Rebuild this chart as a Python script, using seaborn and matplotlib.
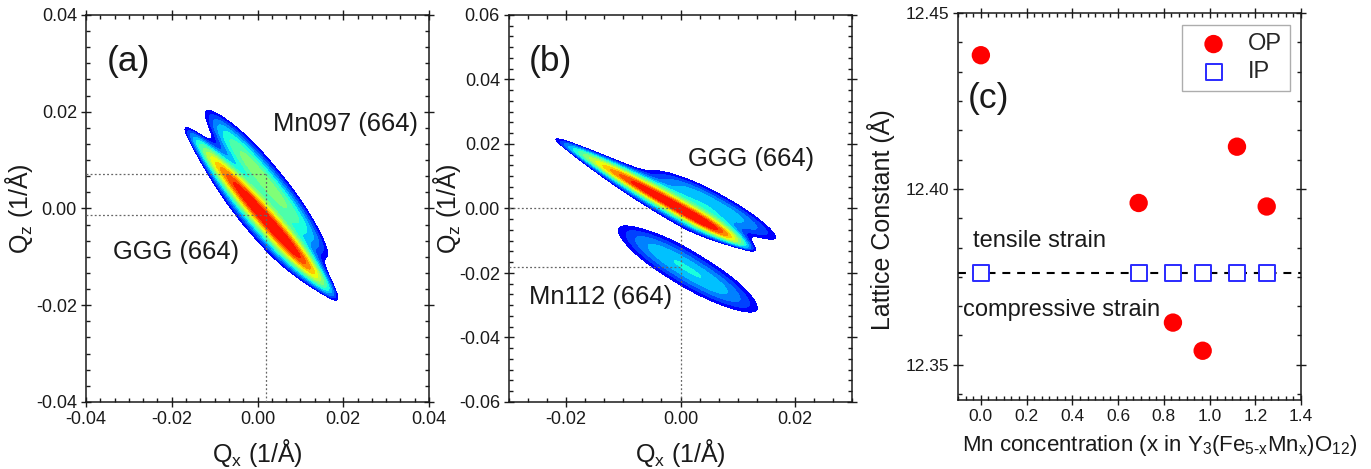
import numpy as np
import pandas as pd
import matplotlib
matplotlib.use("Agg")
import matplotlib.pyplot as plt
import seaborn as sns
from matplotlib.ticker import MultipleLocator, AutoMinorLocator, FormatStrFormatter

# ---------------- data ----------------
# Reciprocal space map peaks, panel (a): GGG substrate and Mn097 film (664)
a_peaks = ["GGG", "Mn097"]
a_qx = [0.0032, 0.0005]          # peak centre Qx (1/A)
a_qz = [-0.0034, 0.0070]         # peak centre Qz (1/A)
a_angle = [-45.0, -46.5]         # streak direction (deg)
a_len_up = [0.0114, 0.0100]      # spread towards upper-left
a_len_down = [0.0088, 0.0122]    # spread towards lower-right
a_wid_low = [0.0016, 0.0027]     # spread on lower-left side
a_wid_high = [0.0016, 0.0027]    # spread on upper-right side
a_amp = [1.0, 0.095]             # relative intensity

# Panel (b): GGG substrate (sharp + diffuse part) and Mn112 film (664)
b_peaks = ["GGG", "GGG diffuse", "Mn112"]
b_qx = [0.0014, 0.0057, 0.0013]
b_qz = [-0.0016, 0.0014, -0.0188]
b_angle = [-45.0, -45.0, -48.0]
b_len_up = [0.0132, 0.0095, 0.0118]
b_len_down = [0.0065, 0.0110, 0.0118]
b_wid_low = [0.00125, 0.0033, 0.0045]
b_wid_high = [0.0015, 0.0033, 0.0045]
b_amp = [1.0, 0.035, 0.044]

# Guide lines marking peak positions
a_guide_qx = 0.0019
a_guide_qz = [0.0072, -0.0013]
b_guide_qx = 0.0
b_guide_qz = [0.0, -0.018]

# Panel (c): lattice constants vs Mn content
mn_x = [0.0, 0.69, 0.84, 0.97, 1.12, 1.25]
op_lattice = [12.438, 12.396, 12.362, 12.354, 12.412, 12.395]
ip_lattice = [12.376, 12.376, 12.376, 12.376, 12.376, 12.376]
substrate_lattice = 12.376

# ---------------- style ----------------
sns.set_theme(style="ticks")
plt.rcParams["font.family"] = ["Liberation Sans", "DejaVu Sans"]
plt.rcParams["mathtext.fontset"] = "custom"
plt.rcParams["mathtext.rm"] = "Liberation Sans"
plt.rcParams["mathtext.it"] = "Liberation Sans:italic"
plt.rcParams["mathtext.bf"] = "Liberation Sans:bold"
plt.rcParams["axes.unicode_minus"] = False

TXT = "#1a1a1a"
W, H = 1371, 469
fig = plt.figure(figsize=(W / 100, H / 100), dpi=100)


def px_axes(left, top, right, bottom):
    return fig.add_axes([left / W, 1 - bottom / H, (right - left) / W, (bottom - top) / H])


ax_a = px_axes(86, 15, 429, 402)
ax_b = px_axes(509, 15, 852, 402)
ax_c = px_axes(958, 13, 1301, 400)


def style_axes(ax, xmaj, ymaj, xfmt, yfmt, lsize):
    ax.xaxis.set_major_locator(MultipleLocator(xmaj))
    ax.yaxis.set_major_locator(MultipleLocator(ymaj))
    ax.xaxis.set_minor_locator(AutoMinorLocator(6))
    ax.yaxis.set_minor_locator(AutoMinorLocator(6))
    ax.xaxis.set_major_formatter(FormatStrFormatter(xfmt))
    ax.yaxis.set_major_formatter(FormatStrFormatter(yfmt))
    ax.tick_params(which="major", direction="inout", length=7, width=1.0,
                   top=True, right=True, labelsize=lsize, colors=TXT, pad=3)
    ax.tick_params(which="minor", direction="in", length=3.2, width=1.0,
                   top=True, right=True, colors=TXT)
    for sp in ax.spines.values():
        sp.set_linewidth(1.1)
        sp.set_color(TXT)


P_ALONG = 2.4   # slightly flat-topped profile along the streak


def peak_field(QX, QZ, cx, cz, ang, l_up, l_down, w_low, w_high, amp):
    t = np.deg2rad(ang)
    dx, dz = QX - cx, QZ - cz
    u = dx * np.cos(t) + dz * np.sin(t)
    v = -dx * np.sin(t) + dz * np.cos(t)
    su = np.where(u < 0, l_up, l_down)
    sv = np.where(v < 0, w_low, w_high)
    along = np.exp(-0.5 * np.abs(u / su) ** P_ALONG)
    across = 1.0 / (1.0 + (v / sv) ** 2) ** 2
    return amp * along * across


# contour bands: outer blue through red
band_levels = list(np.geomspace(0.012, 0.55, 13)) + [10.0]
band_colors = [plt.cm.jet(p) for p in np.linspace(0.125, 0.89, 13)]


def draw_map(ax, xlim, ylim, qx, qz, ang, l_up, l_down, w_low, w_high, amp):
    gx = np.linspace(xlim[0], xlim[1], 700)
    gz = np.linspace(ylim[0], ylim[1], 700)
    QX, QZ = np.meshgrid(gx, gz)
    Z = np.zeros_like(QX)
    for i in range(len(qx)):
        Z += peak_field(QX, QZ, qx[i], qz[i], ang[i], l_up[i], l_down[i],
                        w_low[i], w_high[i], amp[i])
    ax.contourf(QX, QZ, Z, levels=band_levels, colors=band_colors, zorder=1)
    ax.set_xlim(*xlim)
    ax.set_ylim(*ylim)


def guides(ax, xlim, ylim, gx, gzs):
    kw = dict(color="#666666", lw=0.9, ls=(0, (1.5, 1.8)), zorder=3)
    for gz in gzs:
        ax.plot([xlim[0], gx], [gz, gz], **kw)
    ax.plot([gx, gx], [ylim[0], max(gzs)], **kw)


# ---------------- panel (a) ----------------
xa, ya = (-0.04, 0.04), (-0.04, 0.04)
draw_map(ax_a, xa, ya, a_qx, a_qz, a_angle, a_len_up, a_len_down, a_wid_low, a_wid_high, a_amp)
guides(ax_a, xa, ya, a_guide_qx, a_guide_qz)
style_axes(ax_a, 0.02, 0.02, "%.2f", "%.2f", 13)
ax_a.set_xlabel("Q$_\\mathrm{x}$ (1/Å)", fontsize=18, color=TXT)
ax_a.set_ylabel("Q$_\\mathrm{z}$ (1/Å)", fontsize=18, color=TXT)
ax_a.xaxis.set_label_coords(0.5, -0.09)
ax_a.yaxis.set_label_coords(-0.149, 0.5)
ax_a.text(0.061, 0.881, "(a)", transform=ax_a.transAxes, fontsize=25.5, va="center", color=TXT)
ax_a.text(0.546, 0.718, "Mn097 (664)", transform=ax_a.transAxes, fontsize=18.4, va="center", color=TXT)
ax_a.text(0.079, 0.388, "GGG (664)", transform=ax_a.transAxes, fontsize=18.4, va="center", color=TXT)

# ---------------- panel (b) ----------------
xb, yb = (-0.03, 0.03), (-0.06, 0.06)
draw_map(ax_b, xb, yb, b_qx, b_qz, b_angle, b_len_up, b_len_down, b_wid_low, b_wid_high, b_amp)
guides(ax_b, xb, yb, b_guide_qx, b_guide_qz)
style_axes(ax_b, 0.02, 0.02, "%.2f", "%.2f", 13)
ax_b.set_xlabel("Q$_\\mathrm{x}$ (1/Å)", fontsize=18, color=TXT)
ax_b.set_ylabel("Q$_\\mathrm{z}$ (1/Å)", fontsize=18, color=TXT)
ax_b.xaxis.set_label_coords(0.5, -0.09)
ax_b.yaxis.set_label_coords(-0.134, 0.5)
ax_b.text(0.058, 0.881, "(b)", transform=ax_b.transAxes, fontsize=25.5, va="center", color=TXT)
ax_b.text(0.522, 0.628, "GGG (664)", transform=ax_b.transAxes, fontsize=18.4, va="center", color=TXT)
ax_b.text(0.058, 0.271, "Mn112 (664)", transform=ax_b.transAxes, fontsize=18.4, va="center", color=TXT)

# ---------------- panel (c) ----------------
df_c = pd.DataFrame({"x": mn_x, "OP": op_lattice, "IP": ip_lattice})
ax_c.axhline(substrate_lattice, color="black", lw=1.5, ls=(0, (3.8, 3.3)), zorder=1)
sns.scatterplot(data=df_c, x="x", y="OP", ax=ax_c, s=175, color="#ff0000",
                edgecolor="none", label="OP", zorder=3)
sns.scatterplot(data=df_c, x="x", y="IP", ax=ax_c, s=135, marker="s",
                facecolor="white", edgecolor="#2a2aff", linewidth=1.4,
                label="IP", zorder=3)
ax_c.set_xlim(-0.1, 1.4)
ax_c.set_ylim(12.34, 12.45)
style_axes(ax_c, 0.2, 0.05, "%.1f", "%.2f", 12.5)
ax_c.set_xlabel("Mn concentration (x in Y$_\\mathrm{3}$(Fe$_{\\text{5-x}}$Mn$_\\mathrm{x}$)O$_\\mathrm{12}$)",
                fontsize=16, color=TXT)
ax_c.set_ylabel("Lattice Constant (Å)", fontsize=18, color=TXT)
ax_c.xaxis.set_label_coords(0.589, -0.085)
ax_c.yaxis.set_label_coords(-0.184, 0.465)
ax_c.text(0.029, 0.778, "(c)", transform=ax_c.transAxes, fontsize=25.5, va="center", color=TXT)
ax_c.text(0.043, 0.411, "tensile strain", transform=ax_c.transAxes, fontsize=17, va="center", color=TXT)
ax_c.text(0.015, 0.233, "compressive strain", transform=ax_c.transAxes, fontsize=17, va="center", color=TXT)
leg = ax_c.legend(loc="upper right", bbox_to_anchor=(0.968, 0.969), frameon=True,
                  fancybox=False, edgecolor="#999999", fontsize=17,
                  handletextpad=0.45, borderpad=0.35, labelspacing=0.25,
                  borderaxespad=0.0)
leg.get_frame().set_linewidth(1.0)

fig.savefig("out.png", dpi=100)
